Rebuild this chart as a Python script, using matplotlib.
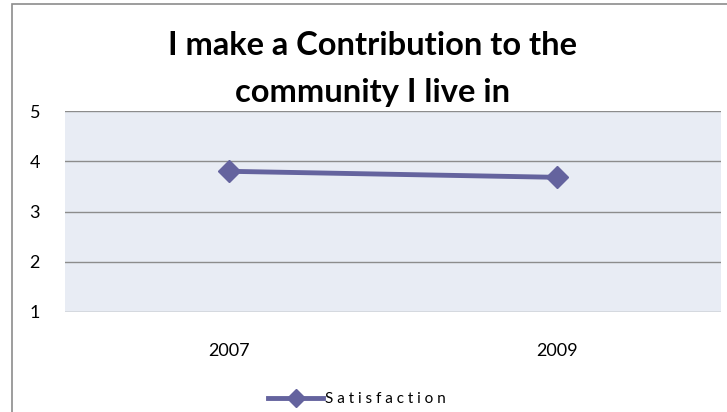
import matplotlib.pyplot as plt
from matplotlib.lines import Line2D
from matplotlib.patches import Rectangle

years = ["2007", "2009"]
satisfaction = [3.8, 3.68]
y_ticks = [1, 2, 3, 4, 5]

LINE_COLOR = "#64639e"
PLOT_BG = "#e8ecf4"
GRID = "#8c8c8c"

plt.rcParams["font.family"] = ["Lato", "DejaVu Sans"]

fig = plt.figure(figsize=(7.27, 4.12), dpi=100)
fig.patch.set_facecolor("white")

# outer chart border (left and top visible)
fig.add_artist(Rectangle((12 / 727, -0.1), 1.2, (412 - 4) / 412 + 0.1,
                         transform=fig.transFigure, fill=False,
                         edgecolor="#8c8c8c", linewidth=1.2))

ax = fig.add_axes([65 / 727, 1 - 312 / 412, (721 - 65) / 727, (312 - 111) / 412])
ax.set_facecolor(PLOT_BG)

x = list(range(len(years)))
ax.plot(x, satisfaction, color=LINE_COLOR, linewidth=3.5, marker="D",
        markersize=11, markerfacecolor=LINE_COLOR, markeredgecolor=LINE_COLOR,
        zorder=3)

ax.set_xlim(-0.5, len(years) - 0.5)
ax.set_ylim(1, 5)
ax.set_yticks(y_ticks)
ax.set_xticks(x)
ax.set_xticklabels(years)
ax.yaxis.grid(True, color=GRID, linewidth=1)
ax.set_axisbelow(True)
for s in ax.spines.values():
    s.set_visible(False)
ax.tick_params(axis="both", length=0, labelsize=13, colors="black")
ax.tick_params(axis="y", pad=18)
ax.tick_params(axis="x", pad=22)

# title, two centred lines
fig.text(373 / 727, 1 - 55 / 412, "I make a Contribution to the", ha="center",
         va="baseline", fontsize=23.5, fontweight="bold")
fig.text(373 / 727, 1 - 102 / 412, "community I live in", ha="center",
         va="baseline", fontsize=23.5, fontweight="bold")

handle = Line2D([], [], color=LINE_COLOR, linewidth=3.5, marker="D",
                markersize=9, markerfacecolor=LINE_COLOR)
fig.legend([handle], ["S a t i s f a c t i o n"], loc="center",
           bbox_to_anchor=(357 / 727, 1 - 399 / 412), frameon=False,
           fontsize=11, handlelength=3.6, handletextpad=0.1)

fig.savefig("out.png", dpi=100, facecolor="white")
